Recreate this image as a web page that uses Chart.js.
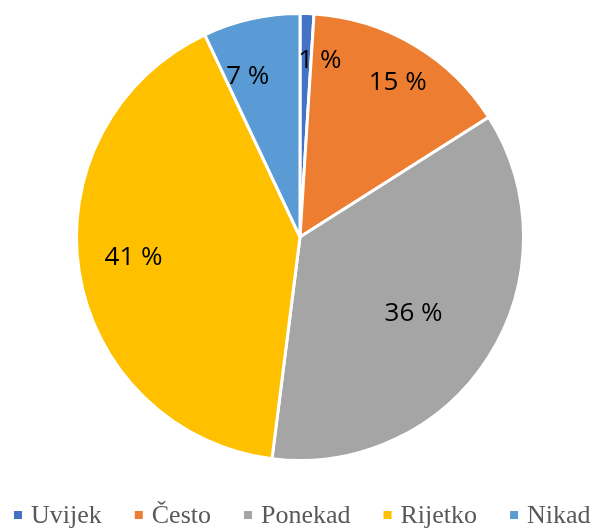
<!DOCTYPE html>
<html>
<head>
<meta charset="utf-8">
<script src="https://cdn.jsdelivr.net/npm/chart.js@4/dist/chart.umd.min.js"></script>
<style>
  html, body { margin: 0; padding: 0; background: #fff; }
  #wrap { width: 597px; height: 528px; }
</style>
</head>
<body>
<div id="wrap"><canvas id="c" width="597" height="528"></canvas></div>
<script>
  // Odgovori i udjeli (%)
  const categories = ['Uvijek', 'Često', 'Ponekad', 'Rijetko', 'Nikad'];
  const shares = [1, 15, 36, 41, 7];
  const colors = ['#4472C4', '#ED7D31', '#A5A5A5', '#FFC000', '#5B9BD5'];

  // smještaj oznaka unutar isječaka (udio polumjera, pomak kuta u stupnjevima)
  const labelRadius = [0.80, 0.82, 0.61, 0.75, 0.76];
  const labelTurn = [4.6, 1.6, 1.2, 2.3, -5.3];

  const sliceLabels = {
    id: 'sliceLabels',
    afterDatasetsDraw(chart) {
      const ctx = chart.ctx;
      const meta = chart.getDatasetMeta(0);
      ctx.save();
      ctx.font = '26px "Open Sans"';
      ctx.fillStyle = '#000';
      ctx.textAlign = 'center';
      ctx.textBaseline = 'middle';
      meta.data.forEach((arc, i) => {
        const p = arc.getProps(['x', 'y', 'startAngle', 'endAngle', 'outerRadius'], true);
        const a = (p.startAngle + p.endAngle) / 2 + labelTurn[i] * Math.PI / 180;
        const r = p.outerRadius * labelRadius[i];
        ctx.fillText(shares[i] + ' %', p.x + Math.cos(a) * r, p.y + Math.sin(a) * r + 1);
      });
      ctx.restore();
    },
  };

  // legenda ispod: kvadratić + tekst, serifno
  const bottomLegend = {
    id: 'bottomLegend',
    afterDraw(chart) {
      const ctx = chart.ctx;
      const box = 8, gapIn = 9, gapOut = 33, y = 515;
      ctx.save();
      ctx.font = '26px "Liberation Serif"';
      const widths = categories.map((c) => ctx.measureText(c).width);
      const total = widths.reduce((s, w) => s + box + gapIn + w, 0) + gapOut * (categories.length - 1);
      let x = Math.round(12 + (580 - total) / 2);
      ctx.textBaseline = 'alphabetic';
      categories.forEach((c, i) => {
        ctx.fillStyle = colors[i];
        ctx.fillRect(x, y - box / 2, box, box);
        ctx.fillStyle = '#595959';
        ctx.fillText(c, x + box + gapIn, y + 8);
        x += box + gapIn + widths[i] + gapOut;
      });
      ctx.restore();
    },
  };

  new Chart(document.getElementById('c'), {
    type: 'pie',
    data: {
      labels: categories,
      datasets: [{
        data: shares,
        backgroundColor: colors,
        borderColor: '#fff',
        borderWidth: 3,
        hoverOffset: 0,
      }],
    },
    options: {
      responsive: false,
      animation: false,
      layout: { padding: { top: 12, bottom: 66, left: 3, right: 0 } },
      plugins: {
        legend: { display: false },
        tooltip: { enabled: false },
      },
    },
    plugins: [sliceLabels, bottomLegend],
  });
</script>
</body>
</html>
